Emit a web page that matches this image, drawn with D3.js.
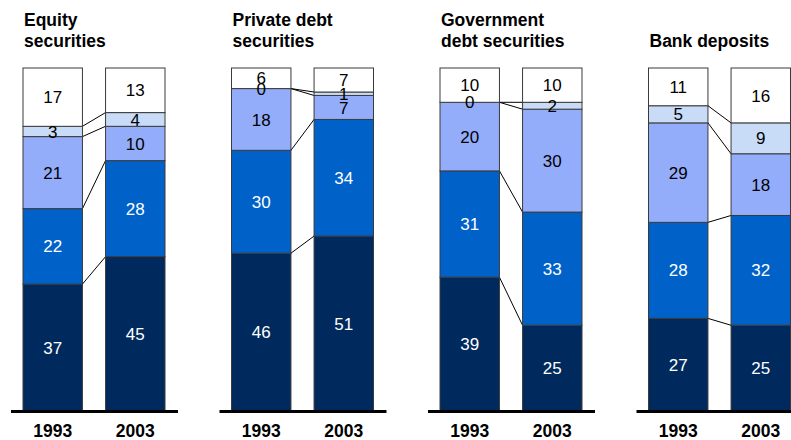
<!DOCTYPE html>
<html>
<head>
<meta charset="utf-8">
<script src="https://cdn.jsdelivr.net/npm/d3@7"></script>
<style>
  html, body { margin: 0; padding: 0; background: #fff; }
  svg { display: block; font-family: "Liberation Sans", Arial, sans-serif; }
</style>
</head>
<body>
<svg id="chart" width="791" height="440"></svg>
<script>
// ---- data ----
const panels = ["Equity securities", "Private debt securities", "Government debt securities", "Bank deposits"];
const titleLines = [["Equity", "securities"], ["Private debt", "securities"], ["Government", "debt securities"], ["", "Bank deposits"]];
const years = ["1993", "2003"];
const layers = ["L1", "L2", "L3", "L4", "L5"]; // bottom to top
// values per panel, per year, bottom->top
const equity1993 = [37, 22, 21, 3, 17];
const equity2003 = [45, 28, 10, 4, 13];
const privDebt1993 = [46, 30, 18, 0, 6];
const privDebt2003 = [51, 34, 7, 1, 7];
const govDebt1993 = [39, 31, 20, 0, 10];
const govDebt2003 = [25, 33, 30, 2, 10];
const bank1993 = [27, 28, 29, 5, 11];
const bank2003 = [25, 32, 18, 9, 16];
const layerColors = ["#002a5e", "#0062c8", "#94adfa", "#c8dcf8", "#ffffff"];
const labelColors = ["#ffffff", "#ffffff", "#000000", "#000000", "#000000"];

const values = [
  [equity1993, equity2003],
  [privDebt1993, privDebt2003],
  [govDebt1993, govDebt2003],
  [bank1993, bank2003]
];

// ---- layout ----
const svg = d3.select("#chart");
const x0 = d3.scaleBand().domain(panels).range([23, 23 + 4 * 208.5]).paddingInner(0).paddingOuter(0);
const x1 = d3.scaleBand().domain(years).range([0, 142]).paddingInner(0.28).paddingOuter(0);
const y = d3.scaleLinear().domain([0, 100]).range([411, 68]);

panels.forEach((p, pi) => {
  const g = svg.append("g").attr("transform", `translate(${x0(p)},0)`);
  const stacks = years.map((yr, yi) => {
    let acc = 0;
    return values[pi][yi].map((v, li) => {
      const s = { y0: acc, y1: acc + v, v, li };
      acc += v;
      return s;
    });
  });

  // connector lines (top of each layer)
  layers.forEach((l, li) => {
    if (li === layers.length - 1) return;
    const a = stacks[0][li], b = stacks[1][li];
    g.append("line")
      .attr("x1", x1("1993") + x1.bandwidth())
      .attr("x2", x1("2003"))
      .attr("y1", y(a.y1))
      .attr("y2", y(b.y1))
      .attr("stroke", "#000")
      .attr("stroke-width", 1);
  });

  years.forEach((yr, yi) => {
    const bx = x1(yr);
    const bg = g.append("g");
    bg.selectAll("rect").data(stacks[yi]).join("rect")
      .attr("x", bx)
      .attr("width", x1.bandwidth())
      .attr("y", d => y(d.y1))
      .attr("height", d => y(d.y0) - y(d.y1))
      .attr("fill", d => layerColors[d.li])
      .attr("stroke", "#3a3a3a")
      .attr("stroke-width", 1);
    bg.selectAll("text").data(stacks[yi]).join("text")
      .attr("x", bx + x1.bandwidth() / 2)
      .attr("y", d => (y(d.y0) + y(d.y1)) / 2)
      .attr("dy", "0.36em")
      .attr("text-anchor", "middle")
      .attr("font-size", 17)
      .attr("fill", d => labelColors[d.li])
      .text(d => d.v);
    // year label
    g.append("text")
      .attr("x", bx + x1.bandwidth() / 2)
      .attr("y", 437)
      .attr("text-anchor", "middle")
      .attr("font-size", 17.5)
      .attr("font-weight", "bold")
      .attr("fill", "#000")
      .text(yr);
  });

  // baseline
  g.append("line")
    .attr("x1", -12).attr("x2", 142 + 13)
    .attr("y1", y(0) + 0.5).attr("y2", y(0) + 0.5)
    .attr("stroke", "#000").attr("stroke-width", 3);

  // title
  const t = g.append("text")
    .attr("x", 1)
    .attr("font-size", 17.5)
    .attr("font-weight", "bold")
    .attr("fill", "#000");
  titleLines[pi].forEach((ln, i) => {
    if (!ln) return;
    t.append("tspan").attr("x", 1).attr("y", 26 + i * 21).text(ln);
  });
});
</script>
</body>
</html>
